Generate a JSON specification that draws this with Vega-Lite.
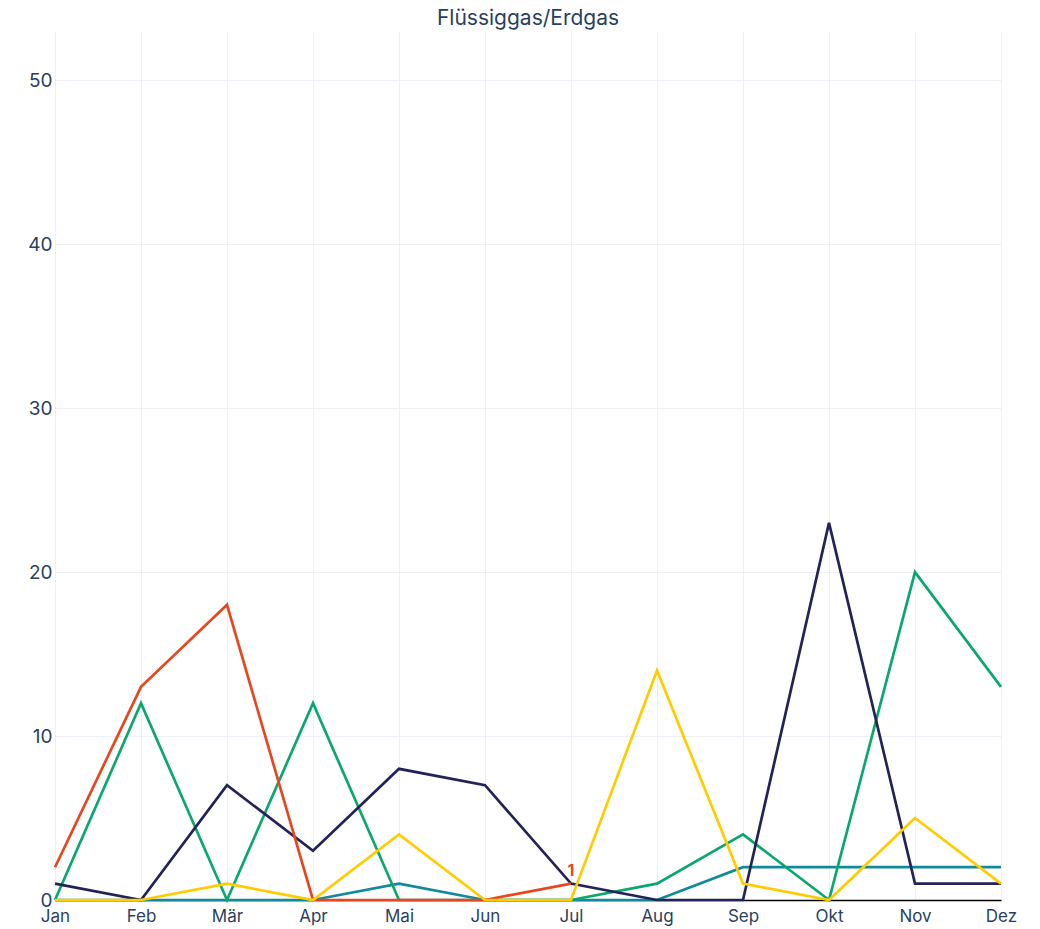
{
  "$schema": "https://vega.github.io/schema/vega-lite/v6.json",
  "autosize": "none",
  "width": 946,
  "height": 869,
  "padding": {"left": 55, "top": 31, "right": 39, "bottom": 29},
  "background": "white",
  "config": {
    "font": "Inter",
    "view": {"stroke": null},
    "axis": {"labelFont": "Inter", "labelColor": "#2a3f5f", "ticks": false, "gridColor": "#eef0f7", "gridWidth": 1, "title": null}
  },
  "title": {"text": "Flüssiggas/Erdgas", "fontSize": 21, "fontWeight": "normal", "color": "#2a3f5f", "anchor": "middle", "offset": 2, "font": "Inter"},
  "data": {"values": [
    {"monat": "Jan", "serie": "A", "wert": 0}, {"monat": "Feb", "serie": "A", "wert": 0}, {"monat": "Mär", "serie": "A", "wert": 0}, {"monat": "Apr", "serie": "A", "wert": 0}, {"monat": "Mai", "serie": "A", "wert": 1}, {"monat": "Jun", "serie": "A", "wert": 0}, {"monat": "Jul", "serie": "A", "wert": 0}, {"monat": "Aug", "serie": "A", "wert": 0}, {"monat": "Sep", "serie": "A", "wert": 2}, {"monat": "Okt", "serie": "A", "wert": 2}, {"monat": "Nov", "serie": "A", "wert": 2}, {"monat": "Dez", "serie": "A", "wert": 2},
    {"monat": "Jan", "serie": "B", "wert": 0}, {"monat": "Feb", "serie": "B", "wert": 12}, {"monat": "Mär", "serie": "B", "wert": 0}, {"monat": "Apr", "serie": "B", "wert": 12}, {"monat": "Mai", "serie": "B", "wert": 0}, {"monat": "Jun", "serie": "B", "wert": 0}, {"monat": "Jul", "serie": "B", "wert": 0}, {"monat": "Aug", "serie": "B", "wert": 1}, {"monat": "Sep", "serie": "B", "wert": 4}, {"monat": "Okt", "serie": "B", "wert": 0}, {"monat": "Nov", "serie": "B", "wert": 20}, {"monat": "Dez", "serie": "B", "wert": 13},
    {"monat": "Jan", "serie": "C", "wert": 1}, {"monat": "Feb", "serie": "C", "wert": 0}, {"monat": "Mär", "serie": "C", "wert": 7}, {"monat": "Apr", "serie": "C", "wert": 3}, {"monat": "Mai", "serie": "C", "wert": 8}, {"monat": "Jun", "serie": "C", "wert": 7}, {"monat": "Jul", "serie": "C", "wert": 1}, {"monat": "Aug", "serie": "C", "wert": 0}, {"monat": "Sep", "serie": "C", "wert": 0}, {"monat": "Okt", "serie": "C", "wert": 23}, {"monat": "Nov", "serie": "C", "wert": 1}, {"monat": "Dez", "serie": "C", "wert": 1},
    {"monat": "Jan", "serie": "D", "wert": 2}, {"monat": "Feb", "serie": "D", "wert": 13}, {"monat": "Mär", "serie": "D", "wert": 18}, {"monat": "Apr", "serie": "D", "wert": 0}, {"monat": "Mai", "serie": "D", "wert": 0}, {"monat": "Jun", "serie": "D", "wert": 0}, {"monat": "Jul", "serie": "D", "wert": 1},
    {"monat": "Jan", "serie": "E", "wert": 0}, {"monat": "Feb", "serie": "E", "wert": 0}, {"monat": "Mär", "serie": "E", "wert": 1}, {"monat": "Apr", "serie": "E", "wert": 0}, {"monat": "Mai", "serie": "E", "wert": 4}, {"monat": "Jun", "serie": "E", "wert": 0}, {"monat": "Jul", "serie": "E", "wert": 0}, {"monat": "Aug", "serie": "E", "wert": 14}, {"monat": "Sep", "serie": "E", "wert": 1}, {"monat": "Okt", "serie": "E", "wert": 0}, {"monat": "Nov", "serie": "E", "wert": 5}, {"monat": "Dez", "serie": "E", "wert": 1}
  ]},
  "encoding": {
    "x": {
      "field": "monat", "type": "ordinal",
      "sort": ["Jan", "Feb", "Mär", "Apr", "Mai", "Jun", "Jul", "Aug", "Sep", "Okt", "Nov", "Dez"],
      "scale": {"type": "point", "padding": 0},
      "axis": {"labelAngle": 0, "labelFontSize": 17, "labelPadding": 8, "grid": true, "domain": true, "domainColor": "#000000", "domainWidth": 1.5, "labelColor": "#2a3f5f"}
    },
    "y": {
      "field": "wert", "type": "quantitative",
      "scale": {"domain": [0, 53], "nice": false},
      "axis": {"values": [0, 10, 20, 30, 40, 50], "labelFontSize": 19, "labelPadding": 3, "domain": false, "grid": true}
    }
  },
  "layer": [
    {
      "mark": {"type": "line", "strokeWidth": 2.7, "clip": false},
      "encoding": {
        "color": {
          "field": "serie", "type": "nominal",
          "scale": {"domain": ["A", "B", "C", "D", "E"], "range": ["#128a9a", "#0aa86e", "#232358", "#e8461e", "#ffcc00"]},
          "legend": null
        }
      }
    },
    {
      "transform": [{"filter": "datum.serie == 'D' && datum.monat == 'Jul'"}],
      "mark": {"type": "text", "dy": -13, "dx": 0, "fontSize": 16, "fontWeight": "bold", "color": "#e8461e"},
      "encoding": {"text": {"field": "wert", "type": "quantitative"}}
    }
  ]
}
